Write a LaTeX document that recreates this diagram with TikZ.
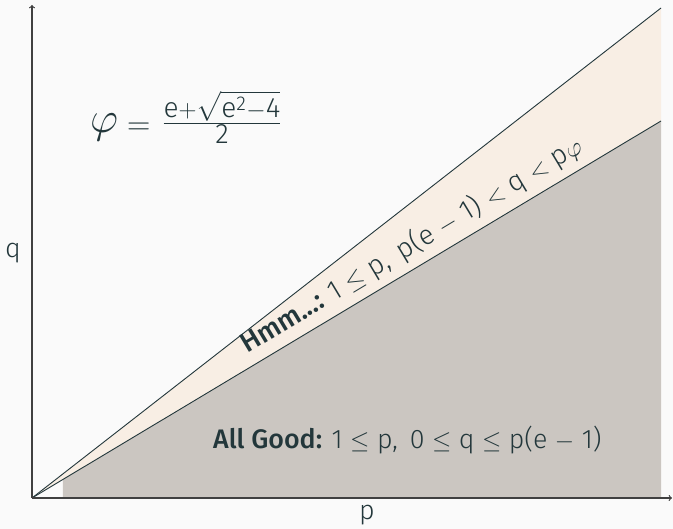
\documentclass[tikz,border=0pt]{standalone}
\usepackage{amsmath}
\usepackage{graphicx}
\usepackage{fontspec}
\setmainfont{Fira Sans}
\newfontfamily\fl{Fira Sans Light}
\newfontfamily\fm{Fira Sans Medium}
\definecolor{bgc}{HTML}{FAFAFA}
\definecolor{txt}{HTML}{23373B}
\definecolor{beige}{HTML}{F8EEE4}
\definecolor{graf}{HTML}{CBC6C1}
\definecolor{axc}{HTML}{404040}
\tikzset{
  axis/.style={draw=axc, line width=1.2pt, ->},
  bound/.style={draw=txt, line width=0.9pt},
  lbl/.style={text=txt, inner sep=0pt, font=\fontsize{26.8}{30}\selectfont},
}
\begin{document}
\begin{tikzpicture}[x=1pt,y=1pt]
\fill[bgc] (-32,-31) rectangle (641,498);
\useasboundingbox (-32,-31) rectangle (641,498);
\coordinate (O) at (0,0);
\coordinate (U) at (629,490);
\coordinate (L) at (629,377);
\coordinate (GL) at (31,18.6);
\coordinate (GB) at (31,0);
\coordinate (GR) at (629,0);
\fill[beige] (O) -- (U) -- (L) -- cycle;
\fill[graf] (GB) -- (GL) -- (L) -- (GR) -- cycle;
\draw[bound] (O) -- (U);
\draw[bound] (O) -- (L);
\coordinate (XE) at (640,0);
\coordinate (YE) at (0,493);
\draw[axis] (O) -- (XE);
\draw[axis] (O) -- (YE);
\node[lbl] (q) at (-19,245) {\fl q};
\node[lbl] (p) at (335,-17) {\fl p};
\node[lbl, anchor=base west] (good) at (181,49) {{\fm All Good:} \fl 1 $\le$ p,\, 0 $\le$ q $\le$ p(e $-$ 1)};
\node[lbl, anchor=base west, rotate=31, font=\fontsize{27.6}{30}\selectfont] (hmm) at (215,144) {{\fm Hmm...:} \fl 1 $\le$ p,\, p(e $-$ 1) $<$ q $<$ p$\varphi$};
\node[lbl, anchor=base west] (phi) at (58,365) {\scalebox{1.75}{$\varphi$}\hspace{9pt}\raisebox{-1.6pt}{\scalebox{1.3}{$=$}}\hspace{12pt}\raisebox{3.5pt}{\fontsize{40}{44}\selectfont$\frac{\text{\fl e}+\sqrt{\text{\fl e}^{\text{\fl 2}}-\text{\fl 4}}}{\text{\fl 2}}$}};
\end{tikzpicture}
\end{document}
